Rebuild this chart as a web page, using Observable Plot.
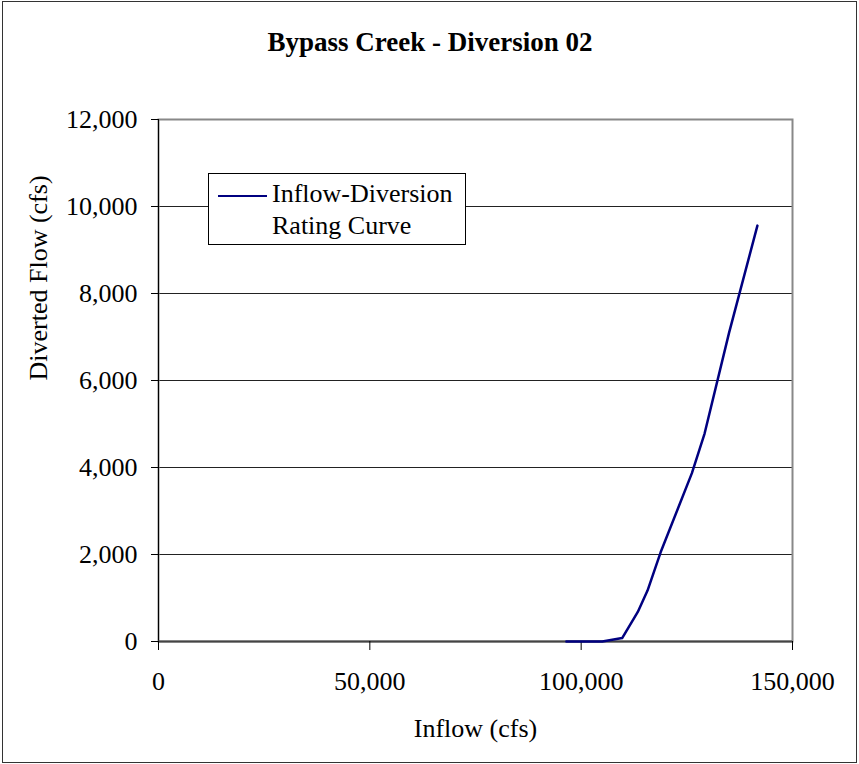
<!DOCTYPE html>
<html><head><meta charset="utf-8">
<script src="https://cdn.jsdelivr.net/npm/d3@7"></script>
<script src="https://cdn.jsdelivr.net/npm/@observablehq/plot@0.6"></script>
<style>
body{margin:0;background:#fff;}
#wrap{position:relative;width:859px;height:764px;}
#wrap svg{display:block;}
#outer{position:absolute;left:2px;top:1px;width:855px;height:762px;border:1.5px solid #333;box-sizing:border-box;pointer-events:none}
#legend{position:absolute;left:208px;top:173px;width:258px;height:72px;border:1px solid #000;background:#fff;box-sizing:border-box;font-family:"Liberation Serif",serif;font-size:26px;line-height:32px;color:#000}
#legend .sw{position:absolute;left:9px;top:21px;width:49px;height:0;border-top:2.5px solid #000080}
#legend .tx{position:absolute;left:63px;top:4px;white-space:nowrap}
</style>
</head><body>
<div id="wrap"></div>
<script>
const inflow   = [96500, 105000, 109700, 113400, 115700, 118800, 126200, 129200, 135000, 141700];
const diverted = [0, 0, 80, 680, 1170, 2050, 3870, 4780, 7100, 9560];
const xTicks = [0, 50000, 100000, 150000];
const yTicks = [0, 2000, 4000, 6000, 8000, 10000, 12000];
const title = "Bypass Creek - Diversion 02";
const xLabel = "Inflow (cfs)";
const yLabel = "Diverted Flow (cfs)";
const seriesName = ["Inflow-Diversion", "Rating Curve"];

const data = inflow.map((x, i) => ({x, y: diverted[i]}));
const fmt = d3.format(",");
const font = "Liberation Serif";

const chart = Plot.plot({
  width: 859, height: 764,
  marginLeft: 158, marginRight: 67, marginTop: 119, marginBottom: 123,
  style: {fontFamily: font, fontSize: "26px", color: "#000", background: "#fff"},
  x: {domain: [0, 150000], ticks: xTicks, tickFormat: fmt},
  y: {domain: [0, 12000], ticks: yTicks, tickFormat: fmt},
  marks: [
    Plot.gridY(yTicks.filter(d => d > 0 && d < 12000), {stroke: "#222", strokeOpacity: 1, strokeWidth: 1}),
    Plot.frame({stroke: "#888", strokeWidth: 2}),
    Plot.ruleX([0], {stroke: "#000", strokeWidth: 1}),
    Plot.ruleY([0], {stroke: "#444", strokeWidth: 2}),
    Plot.axisY({ticks: yTicks, tickFormat: fmt, tickSize: 7, tickPadding: 14, label: null, fontSize: 26, stroke: "#000"}),
    Plot.axisX({ticks: xTicks, tickFormat: fmt, tickSize: 9, tickPadding: 21, label: null, fontSize: 26, stroke: "#000"}),
    Plot.line(data, {x: "x", y: "y", stroke: "#000080", strokeWidth: 2.5}),
    Plot.text([xLabel], {frameAnchor: "bottom", dy: 87, text: d => d, fontSize: 26, lineAnchor: "middle"}),
    Plot.text([yLabel], {frameAnchor: "left", dx: -120, text: d => d, fontSize: 26, rotate: -90, lineAnchor: "middle"}),
    Plot.text([title], {frameAnchor: "top", dx: -45.5, dy: -77, text: d => d, fontSize: 27, fontWeight: "bold", lineAnchor: "middle"})
  ]
});
const wrap = document.getElementById("wrap");
wrap.appendChild(chart);
const outer = document.createElement("div"); outer.id = "outer"; wrap.appendChild(outer);
const lg = document.createElement("div"); lg.id = "legend";
lg.innerHTML = `<div class="sw"></div><div class="tx">${seriesName[0]}<br>${seriesName[1]}</div>`;
wrap.appendChild(lg);
</script>
</body></html>
